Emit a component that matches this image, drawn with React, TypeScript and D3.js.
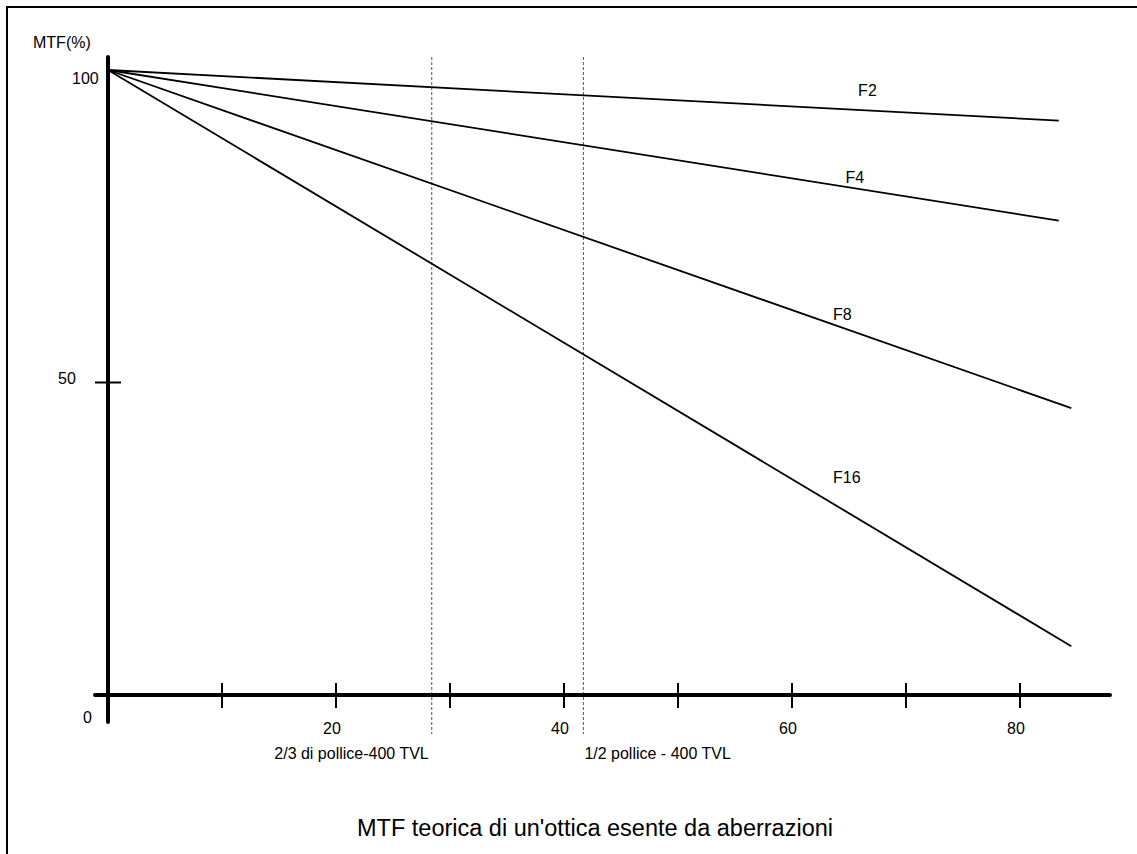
import React from 'react';
import * as d3 from 'd3';

// MTF curves: straight lines from 100% at the origin to the last read value
const seriesNames = ['F2', 'F4', 'F8', 'F16'];
const startFreq = [0, 0, 0, 0];
const startMTF = [100, 100, 100, 100];
const endFreq = [83.4, 83.4, 84.5, 84.5];
const endMTF = [91.9, 75.9, 45.9, 7.8];
const labelFreq = [65.8, 64.7, 63.6, 63.6];
const labelMTF = [95.8, 81.9, 60, 33.9];

const xTicks = [10, 20, 30, 40, 50, 60, 70, 80];
const xTickLabels = [20, 40, 60, 80];
const yTicks = [50];
const yTickLabels = [0, 50, 100];

const refLabels = ['2/3 di pollice-400 TVL', '1/2 pollice - 400 TVL'];
const refFreq = [28.4, 41.7];

const W = 1137;
const H = 854;
const FONT = '"Liberation Sans", Arial, sans-serif';

export default function App() {
  const x = d3.scaleLinear().domain([0, 80]).range([108, 1020]);
  const y = d3.scaleLinear().domain([0, 100]).range([695, 70]);

  const line = d3.line<[number, number]>()
    .x(d => x(d[0]))
    .y(d => y(d[1]));

  const x0 = x(0);
  const y0 = y(0);
  // label offsets, as placed in the original drawing
  const yLabelDx: Record<number, number> = { 0: -25, 50: -50, 100: -36 };
  const yLabelDy: Record<number, number> = { 0: 28, 50: 1, 100: 14 };

  return (
    <svg width={W} height={H} style={{ position: 'absolute', left: 0, top: 0, background: '#fff' }}
      fontFamily={FONT}>
      {/* frame */}
      <path d={`M7,${H} V7 H${W}`} fill="none" stroke="#000" strokeWidth={2} />

      <text x={33} y={48} fontSize={16}>MTF(%)</text>

      {/* reference dashed lines */}
      {refFreq.map((f, i) => (
        <g key={refLabels[i]}>
          <line x1={x(f)} x2={x(f)} y1={y(100) - 13} y2={y0 + 39}
            stroke="#555" strokeWidth={1} strokeDasharray="3,2" />
          <text x={i === 0 ? x(f) - 3 : x(f) + 1} y={759} fontSize={16}
            textAnchor={i === 0 ? 'end' : 'start'}>{refLabels[i]}</text>
        </g>
      ))}

      {/* series */}
      {seriesNames.map((name, i) => (
        <g key={name}>
          <path d={line([[startFreq[i], startMTF[i]], [endFreq[i], endMTF[i]]]) || ''}
            fill="none" stroke="#000" strokeWidth={1.8} />
          <text x={x(labelFreq[i])} y={y(labelMTF[i])} fontSize={16}>{name}</text>
        </g>
      ))}

      {/* axes */}
      <line x1={x0} x2={x0} y1={y(100) - 13} y2={y0 + 27}
        stroke="#000" strokeWidth={4} strokeLinecap="round" />
      <line x1={x0 - 13} x2={1110} y1={y0} y2={y0}
        stroke="#000" strokeWidth={4} strokeLinecap="round" />

      {xTicks.map(t => (
        <line key={t} x1={x(t)} x2={x(t)} y1={y0 - 12} y2={y0 + 13} stroke="#000" strokeWidth={2} />
      ))}
      {xTickLabels.map(t => (
        <text key={t} x={x(t) - 4} y={y0 + 39} fontSize={16} textAnchor="middle">{t}</text>
      ))}

      {yTicks.map(t => (
        <line key={t} x1={x0 - 13} x2={x0 + 13} y1={y(t)} y2={y(t)} stroke="#000" strokeWidth={2} />
      ))}
      {yTickLabels.map(t => (
        <text key={t} x={x0 + yLabelDx[t]} y={y(t) + yLabelDy[t]} fontSize={16}
          textAnchor="start">{t}</text>
      ))}

      <text x={595} y={836} fontSize={23.5} textAnchor="middle">
        MTF teorica di un'ottica esente da aberrazioni
      </text>
    </svg>
  );
}
